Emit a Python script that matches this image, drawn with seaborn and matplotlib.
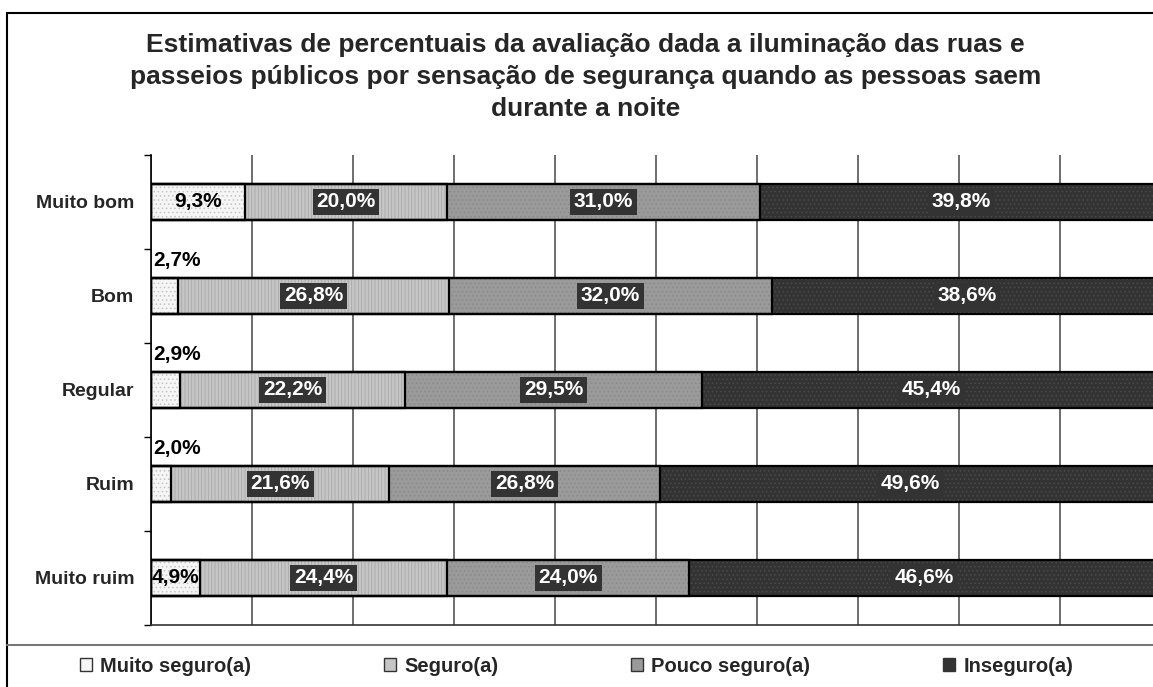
import matplotlib
matplotlib.use("Agg")
import matplotlib.pyplot as plt
import seaborn as sns
import numpy as np
from matplotlib.patches import Rectangle, Patch
from matplotlib.lines import Line2D

# dados
categorias = ["Muito bom", "Bom", "Regular", "Ruim", "Muito ruim"]
muito_seguro = [9.3, 2.7, 2.9, 2.0, 4.9]
seguro = [20.0, 26.8, 22.2, 21.6, 24.4]
pouco_seguro = [31.0, 32.0, 29.5, 26.8, 24.0]
inseguro = [39.8, 38.6, 45.4, 49.6, 46.6]
series_nomes = ["Muito seguro(a)", "Seguro(a)", "Pouco seguro(a)", "Inseguro(a)"]

titulo = ("Estimativas de percentuais da avaliação dada a iluminação das ruas e\n"
          "passeios públicos por sensação de segurança quando as pessoas saem\n"
          "durante a noite")

sns.set_style("white")
plt.rcParams["font.family"] = ["Liberation Sans", "DejaVu Sans"]
plt.rcParams["font.weight"] = "bold"
plt.rcParams["hatch.linewidth"] = 0.6

faces = ["#f5f5f5", "#c6c6c6", "#9a9a9a", "#333333"]
hatch_cores = ["#c4c4c4", "#a8a8a8", "#8a8a8a", "#4a4a4a"]
hatches = ["....", "|||||", "....", "...."]

valores = [muito_seguro, seguro, pouco_seguro, inseguro]
cum = np.cumsum(np.array(valores), axis=0)

fig = plt.figure(figsize=(11.53, 6.87), dpi=100)
ax = fig.add_axes([151 / 1153, 62 / 687, 1010 / 1153, 470 / 687])

largura = 0.38
# barras empilhadas: desenha do acumulado maior para o menor
for i in range(3, -1, -1):
    sns.barplot(x=cum[i], y=categorias, orient="h", color=faces[i], saturation=1,
                width=largura, edgecolor=hatch_cores[i], linewidth=0,
                hatch=hatches[i], ax=ax, zorder=2)
for i in range(3, -1, -1):
    sns.barplot(x=cum[i], y=categorias, orient="h", color="black", fill=False,
                width=largura, linewidth=1.6, ax=ax, zorder=3)

# rotulos
fs_rot = 15
for j, cat in enumerate(categorias):
    for i in range(4):
        v = valores[i][j]
        txt = f"{v:.1f}%".replace(".", ",")
        meio = cum[i][j] - v / 2
        if i == 0:
            if v < 4:
                ax.text(0.2, j - 0.38, txt, ha="left", va="center", fontsize=fs_rot,
                        fontweight="bold", color="black", zorder=5)
            else:
                ax.text(meio, j, txt, ha="center", va="center", fontsize=fs_rot,
                        fontweight="bold", color="black", zorder=5)
        else:
            ax.text(meio, j, txt, ha="center", va="center", fontsize=fs_rot,
                    fontweight="bold", color="white", zorder=5,
                    bbox=dict(boxstyle="square,pad=0.18", fc="#333333", ec="none"))

ax.set_xlim(0, 100)
ax.set_ylim(4.5, -0.5)
ax.set_xticks(np.arange(0, 101, 10))
ax.set_xticklabels([])
ax.tick_params(axis="x", length=0)
ax.xaxis.grid(True, color="#555555", linewidth=1.2)
ax.set_axisbelow(True)
ax.set_yticks(range(len(categorias)))
ax.set_yticklabels(categorias, fontsize=14, fontweight="bold")
ax.set_yticks(np.arange(-0.5, 5, 1), minor=True)
ax.tick_params(axis="y", which="major", length=0, pad=12)
ax.tick_params(axis="y", which="minor", length=5, width=1, color="black", direction="out", left=True)
ax.set_xlabel("")
ax.set_ylabel("")
for s in ["top", "right"]:
    ax.spines[s].set_visible(False)
ax.spines["left"].set_color("black")
ax.spines["left"].set_linewidth(1.2)
ax.spines["bottom"].set_color("#333333")
ax.spines["bottom"].set_linewidth(1.2)

fig.text(0.508, 1 - 77 / 687, titulo, ha="center", va="center", fontsize=19,
         fontweight="bold", linespacing=1.43)

# moldura e separador da legenda
fig.add_artist(Rectangle((7 / 1153, -0.1), 1.2, (687 - 13) / 687 + 0.1,
                         transform=fig.transFigure, fill=False, ec="black", lw=1.5))
fig.add_artist(Line2D([7 / 1153, 1.0], [1 - 645 / 687] * 2, transform=fig.transFigure,
                      color="#777777", lw=1.5))

handles = [Patch(facecolor=faces[i], edgecolor="#333333", linewidth=1) for i in range(4)]
fig.legend(handles, series_nomes, loc="center", bbox_to_anchor=(0.5, 1 - 666 / 687),
           ncol=4, frameon=False, handlelength=0.6, handleheight=0.6,
           handletextpad=0.4, columnspacing=6.6, prop={"weight": "bold", "size": 14.5})

fig.savefig("out.png", dpi=100)
